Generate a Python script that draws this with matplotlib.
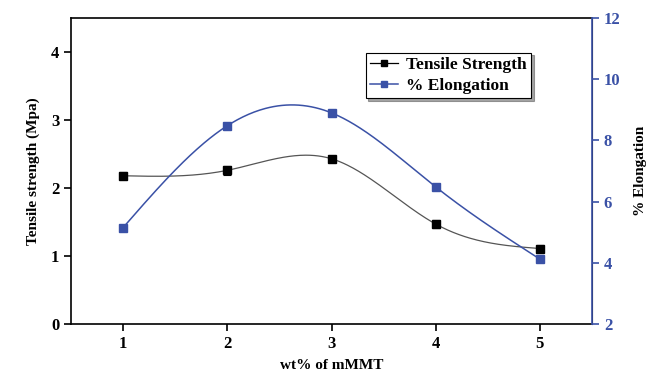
import numpy as np
import matplotlib
matplotlib.use("Agg")
import matplotlib.pyplot as plt

wt = [1, 2, 3, 4, 5]
tensile = [2.18, 2.26, 2.43, 1.47, 1.11]
tensile_err = [0.05, 0.07, 0.03, 0.06, 0.05]
elong = [5.15, 8.48, 8.90, 6.48, 4.12]
elong_err = [0.08, 0.10, 0.06, 0.06, 0.06]

BLUE = "#3A51A6"

def natural_spline(x, y, n=300):
    x = np.asarray(x, float); y = np.asarray(y, float)
    k = len(x); h = np.diff(x)
    A = np.zeros((k, k)); b = np.zeros(k)
    A[0, 0] = A[-1, -1] = 1
    for i in range(1, k - 1):
        A[i, i - 1] = h[i - 1]; A[i, i] = 2 * (h[i - 1] + h[i]); A[i, i + 1] = h[i]
        b[i] = 3 * ((y[i + 1] - y[i]) / h[i] - (y[i] - y[i - 1]) / h[i - 1])
    c = np.linalg.solve(A, b)
    xs = np.linspace(x[0], x[-1], n); ys = np.empty_like(xs)
    for j, xv in enumerate(xs):
        i = min(np.searchsorted(x, xv, side="right") - 1, k - 2)
        d = xv - x[i]
        bb = (y[i + 1] - y[i]) / h[i] - h[i] * (2 * c[i] + c[i + 1]) / 3
        dd = (c[i + 1] - c[i]) / (3 * h[i])
        ys[j] = y[i] + bb * d + c[i] * d ** 2 + dd * d ** 3
    return xs, ys

plt.rcParams["font.family"] = ["Liberation Serif", "DejaVu Serif"]
plt.rcParams["font.weight"] = "bold"

fig = plt.figure(figsize=(6.57, 3.74), dpi=100)
ax = fig.add_axes([71 / 657, 1 - 324 / 374, (592 - 71) / 657, (324 - 18) / 374])
ax2 = ax.twinx()

xs, ys = natural_spline(wt, tensile)
ax.plot(xs, ys, color="#555555", lw=0.9, zorder=2)
ax.errorbar(wt, tensile, yerr=tensile_err, fmt="s", color="black", ms=6,
            capsize=3, elinewidth=0.8, capthick=0.8, zorder=3)
ax.plot([], [], "-s", color="black", ms=5, lw=0.9, label="Tensile Strength")

xs2, ys2 = natural_spline(wt, elong)
ax2.plot(xs2, ys2, color=BLUE, lw=1.1, zorder=2)
ax2.errorbar(wt, elong, yerr=elong_err, fmt="s", color=BLUE, ms=6,
             capsize=3, elinewidth=0.8, capthick=0.8, zorder=3)
ax.plot([], [], "-s", color=BLUE, ms=5, lw=1.1, label="% Elongation")

ax.set_xlim(0.5, 5.5)
ax.set_ylim(0, 4.5)
ax2.set_ylim(2, 12)
ax.set_xticks(wt)
ax.set_yticks([0, 1, 2, 3, 4])
ax2.set_yticks([2, 4, 6, 8, 10, 12])

ax.tick_params(axis="both", direction="out", length=5, width=1.2, labelsize=12)
ax2.tick_params(axis="y", direction="out", length=5, width=1.2, labelsize=12,
                colors=BLUE)
for lbl in ax.get_xticklabels() + ax.get_yticklabels() + ax2.get_yticklabels():
    lbl.set_fontweight("bold")
for s in ["left", "bottom", "top"]:
    ax.spines[s].set_linewidth(1.2)
ax2.spines["right"].set_color(BLUE)
ax2.spines["right"].set_linewidth(1.2)
for s in ["left", "bottom", "top"]:
    ax2.spines[s].set_visible(False)

ax.set_xlabel("wt% of mMMT", fontsize=11, fontweight="bold", labelpad=5)
ax.set_ylabel("Tensile strength (Mpa)", fontsize=11, fontweight="bold", labelpad=8)
ax2.set_ylabel("% Elongation", fontsize=11, fontweight="bold", labelpad=10)

leg = ax.legend(loc="upper left", bbox_to_anchor=((357 - 71) / 521, 1 - (44 - 18) / 306),
                frameon=True, shadow=True, fancybox=False,
                prop={"weight": "bold", "size": 12.5}, handlelength=1.6,
                borderpad=0.25, labelspacing=0.25, handletextpad=0.5)
leg.get_frame().set_edgecolor("black")
leg.get_frame().set_linewidth(0.8)

fig.savefig("out.png", dpi=100)
